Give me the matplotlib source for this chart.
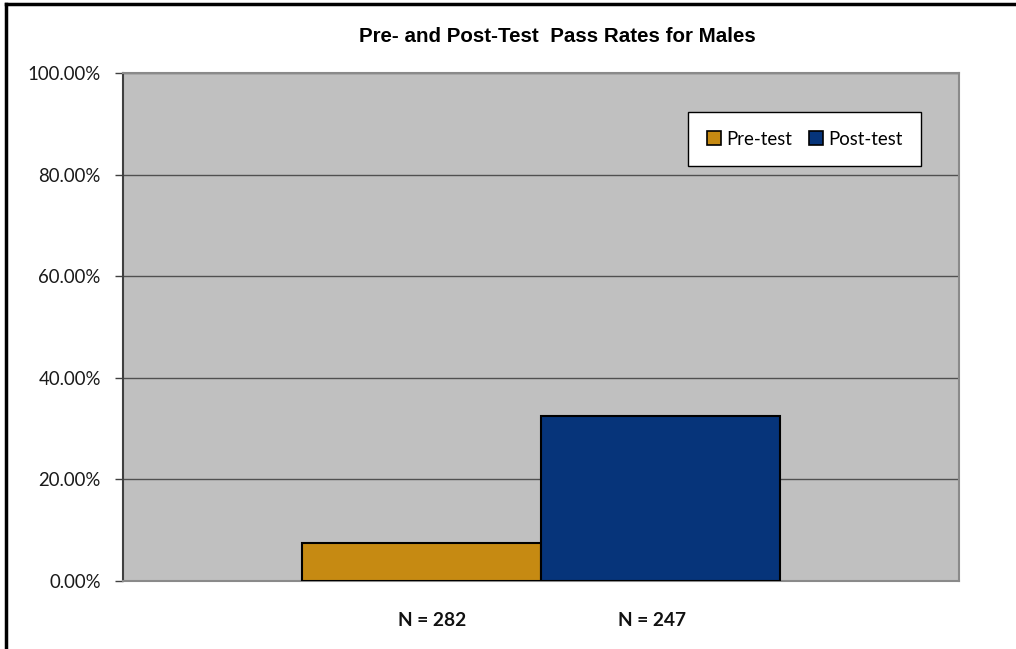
import matplotlib
matplotlib.use("Agg")
import matplotlib.pyplot as plt
from matplotlib.lines import Line2D
from matplotlib.patches import Patch
from matplotlib.ticker import FuncFormatter

# Pass rates (percent) and sample sizes
series = ["Pre-test", "Post-test"]
pass_rates = [7.5, 32.5]
sample_sizes = [282, 247]
colors = ["#C68A12", "#06347A"]
y_ticks = [0, 20, 40, 60, 80, 100]

bar_width = 1 / 1.75 / 2
offsets = [-bar_width / 2, bar_width / 2]
label_pos = [-0.13, 0.133]

fig = plt.figure(figsize=(10.16, 6.49), dpi=100)
fig.patch.set_facecolor("white")
ax = fig.add_axes([123 / 1016, 1 - 581 / 649, (959 - 123) / 1016, (581 - 73) / 649])
ax.set_facecolor("#C0C0C0")

ax.bar(offsets, pass_rates, width=bar_width, color=colors,
       edgecolor="black", linewidth=1.5, zorder=3)

ax.set_xlim(-0.5, 0.5)
ax.set_ylim(0, 100)
ax.set_yticks(y_ticks)
ax.yaxis.set_major_formatter(FuncFormatter(lambda v, _: f"{v:.2f}%"))
ax.set_xticks([])
ax.grid(axis="y", color="#505050", linewidth=1.0, zorder=1)
ax.tick_params(axis="y", direction="out", length=6, width=1, color="#404040",
               labelsize=13.4, labelcolor="#1a1a1a", pad=10)
for lbl in ax.get_yticklabels():
    lbl.set_family("Lato")

for side in ["top", "right", "bottom"]:
    ax.spines[side].set_color("#8a8a8a")
    ax.spines[side].set_linewidth(1.5)
ax.spines["left"].set_color("#404040")
ax.spines["left"].set_linewidth(1.5)

for x, n in zip(label_pos, sample_sizes):
    ax.text(x, -0.078, f"N = {n}", transform=ax.get_xaxis_transform(),
            ha="center", va="center", fontsize=13.8, fontweight="bold",
            family="Lato", color="#111111")

fig.text(557 / 1016, 1 - 36 / 649, "Pre- and Post-Test  Pass Rates for Males",
         ha="center", va="center", fontsize=14.8, fontweight="bold",
         family="Liberation Sans")

handles = [Patch(facecolor=c, edgecolor="black", linewidth=1.2) for c in colors]
leg = ax.legend(handles, series, loc="upper left",
                bbox_to_anchor=((688 - 123) / 836, 1 - (112 - 73) / 508),
                ncol=2, frameon=True, fancybox=False, framealpha=1,
                prop={"family": "Lato", "size": 13.4},
                handlelength=0.75, handleheight=0.75, handletextpad=0.3,
                columnspacing=0.9, borderpad=1.0, borderaxespad=0)
leg.get_frame().set_edgecolor("black")
leg.get_frame().set_linewidth(1.0)

# Frame lines along the top and left edges of the figure
fig.add_artist(Line2D([6 / 1016, 1.0], [1 - 4 / 649, 1 - 4 / 649],
                      color="black", linewidth=2.5, transform=fig.transFigure))
fig.add_artist(Line2D([6 / 1016, 6 / 1016], [0, 1 - 4 / 649],
                      color="black", linewidth=2.5, transform=fig.transFigure))

fig.savefig("out.png", dpi=100)
